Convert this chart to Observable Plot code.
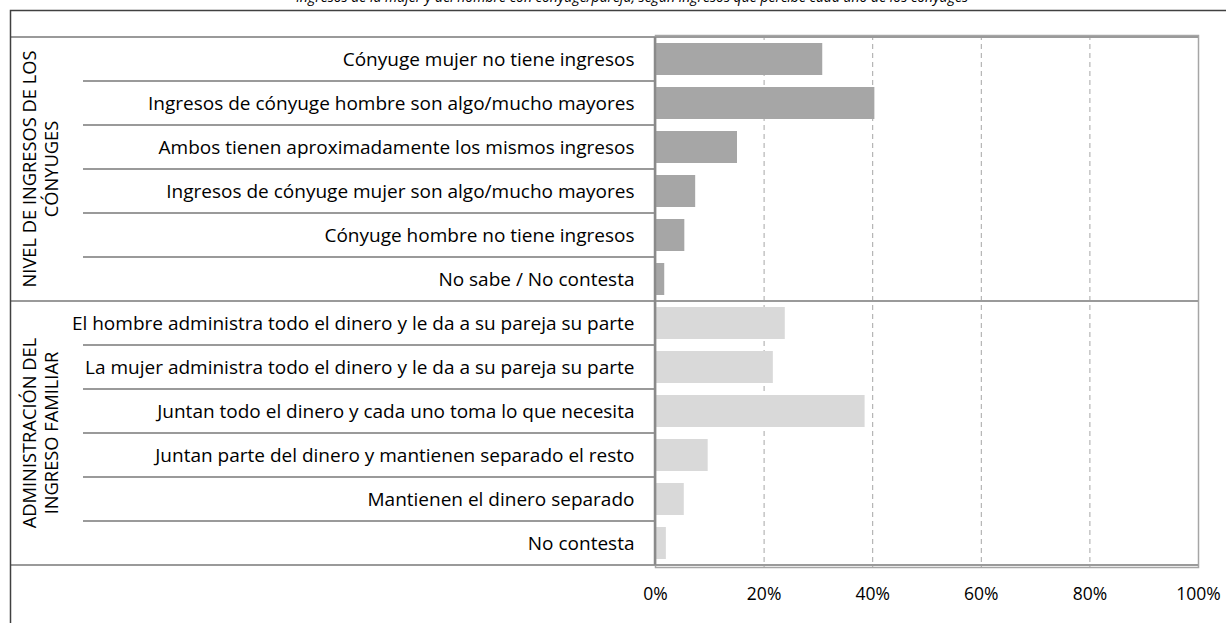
<!DOCTYPE html>
<html><head><meta charset="utf-8">
<script src="https://cdn.jsdelivr.net/npm/d3@7"></script>
<script src="https://cdn.jsdelivr.net/npm/@observablehq/plot@0.6"></script>
<style>
html,body{margin:0;padding:0;background:#fff;overflow:hidden;}
#wrap{position:relative;width:1226px;height:623px;overflow:hidden;}
#chart{position:absolute;left:0;top:0;}
#title{position:absolute;left:0;width:1264px;top:-13px;text-align:center;font:italic 14px 'Open Sans', sans-serif;color:#000;white-space:nowrap;}
</style></head><body>
<div id="wrap"><div id="chart"></div><div id="title"></div></div>
<script>
const title = "Ingresos de la mujer y del hombre con cónyuge/pareja, según ingresos que percibe cada uno de los cónyuges";
const groupNames = ["Nivel de ingresos de los cónyuges", "Administración del ingreso familiar"];
const groupLabelLines = [["NIVEL DE INGRESOS DE LOS", "CÓNYUGES"], ["ADMINISTRACIÓN DEL", "INGRESO FAMILIAR"]];
const ingresoCategories = [
  "Cónyuge mujer no tiene ingresos",
  "Ingresos de cónyuge hombre son algo/mucho mayores",
  "Ambos tienen aproximadamente los mismos ingresos",
  "Ingresos de cónyuge mujer son algo/mucho mayores",
  "Cónyuge hombre no tiene ingresos",
  "No sabe / No contesta"
];
const ingresoValues = [30.8, 40.4, 15.1, 7.4, 5.4, 1.7];
const adminCategories = [
  "El hombre administra todo el dinero y le da a su pareja su parte",
  "La mujer administra todo el dinero y le da a su pareja su parte",
  "Juntan todo el dinero y cada uno toma lo que necesita",
  "Juntan parte del dinero y mantienen separado el resto",
  "Mantienen el dinero separado",
  "No contesta"
];
const adminValues = [23.9, 21.7, 38.6, 9.7, 5.3, 2.0];
const xTicks = [0, 20, 40, 60, 80, 100];
const groupColors = ["#a6a6a6", "#d9d9d9"];

document.getElementById("title").textContent = title;

const data = [
  ...ingresoCategories.map((c, i) => ({cat: c, value: ingresoValues[i], group: groupNames[0]})),
  ...adminCategories.map((c, i) => ({cat: c, value: adminValues[i], group: groupNames[1]}))
];
const categories = data.map(d => d.cat);
const FONT = "'Open Sans', Lato, sans-serif";
const pct = d => d + "%";

const plot = Plot.plot({
  width: 1226, height: 623,
  marginLeft: 655, marginRight: 28, marginTop: 35, marginBottom: 56,
  style: {fontFamily: FONT, fontSize: "16px", color: "#000", background: "#fff"},
  x: {domain: [0, 100], ticks: xTicks, tickFormat: pct},
  y: {domain: categories, paddingInner: 0.28, paddingOuter: 0.14, align: 0.5},
  color: {type: "ordinal", domain: groupNames, range: groupColors},
  marks: [
    Plot.gridX(xTicks.slice(1, -1), {stroke: "#a6a6a6", strokeOpacity: 1, strokeDasharray: "5,4"}),
    Plot.barX(data, {y: "cat", x: "value", fill: "group"}),
    Plot.frame({stroke: "#a6a6a6", strokeWidth: 1.5}),
    Plot.axisX({ticks: xTicks, tickSize: 0, tickPadding: 20, tickFormat: pct, fontSize: 17.5, label: null}),
    Plot.axisY({tickSize: 0, tickPadding: 21, fontSize: 19, label: null})
  ]
});
document.getElementById("chart").appendChild(plot);

// decorative table lines and group labels, placed from the plot's scales
const svg = d3.select(plot);
const xs = plot.scale("x"), ys = plot.scale("y");
const x0 = xs.apply(0), x1 = xs.apply(100);
const step = ys.step, bw = ys.bandwidth;
const rowMid = c => ys.apply(c) + bw / 2;
const rowTop = c => rowMid(c) - step / 2;
const rowBot = c => rowMid(c) + step / 2;
const g = svg.append("g");
const line = (xa, ya, xb, yb, stroke, w) =>
  g.append("line").attr("x1", xa).attr("y1", ya).attr("x2", xb).attr("y2", yb)
   .attr("stroke", stroke).attr("stroke-width", w);

[ingresoCategories, adminCategories].forEach((cats, gi) => {
  cats.slice(1).forEach(c => line(83, rowTop(c), x0, rowTop(c), "#9a9a9a", 2));
  line(10, rowTop(cats[0]), x1, rowTop(cats[0]), "#9a9a9a", 2);
  const yc = (rowTop(cats[0]) + rowBot(cats[cats.length - 1])) / 2;
  groupLabelLines[gi].forEach((t, li) => {
    const xx = 28 + li * 22;
    g.append("text").attr("transform", `translate(${xx},${yc}) rotate(-90)`)
      .attr("text-anchor", "middle").attr("dominant-baseline", "central")
      .attr("font-family", FONT).attr("font-size", 18.3).attr("fill", "#000").text(t);
  });
});
const lastCat = adminCategories[adminCategories.length - 1];
line(10, rowBot(lastCat), x1, rowBot(lastCat), "#9a9a9a", 2);
line(x0, rowTop(categories[0]), x0, rowBot(lastCat), "#8a8a8a", 2.5);
g.append("path").attr("d", "M1226,10.5H10.5V623").attr("fill", "none")
  .attr("stroke", "#404040").attr("stroke-width", 1.5);
</script>
</body></html>
